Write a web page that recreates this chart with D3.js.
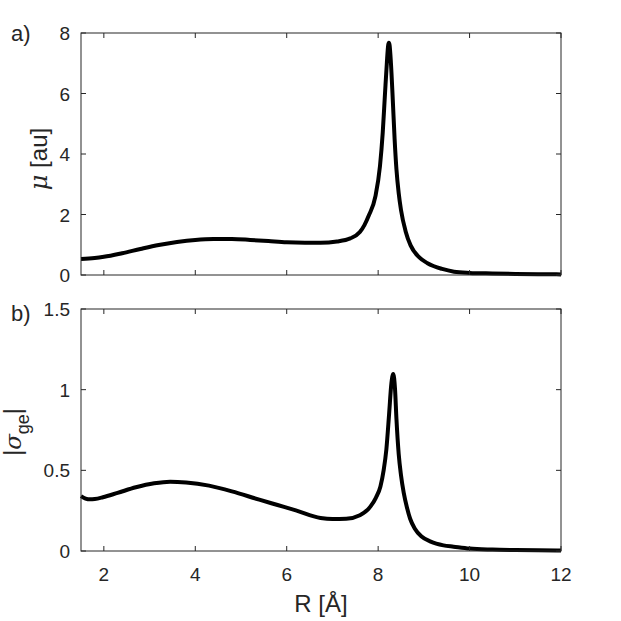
<!DOCTYPE html>
<html>
<head>
<meta charset="utf-8">
<script src="https://cdn.jsdelivr.net/npm/d3@7"></script>
<style>
  body { margin: 0; background: #fff; }
  svg text { font-family: "Liberation Sans", Arial, sans-serif; fill: #262626; }
</style>
</head>
<body>
<div id="chart"></div>
<script>
// R [Å] and dipole moment mu [au]
const muR = [1.5, 1.8, 2.0, 2.4, 2.8, 3.2, 3.6, 4.0, 4.4, 4.8, 5.2, 5.6, 6.0, 6.4, 6.74, 7.1, 7.39, 7.6, 7.7, 7.8, 7.94, 8.04, 8.1, 8.15, 8.19, 8.22, 8.235, 8.25, 8.28, 8.32, 8.36, 8.4, 8.45, 8.5, 8.6, 8.71, 8.9, 9.08, 9.4, 9.66, 10.0, 10.5, 11.0, 11.5, 12.0]
const muVal = [0.53, 0.56, 0.6, 0.72, 0.86, 0.99, 1.09, 1.16, 1.19, 1.19, 1.16, 1.12, 1.08, 1.07, 1.07, 1.11, 1.21, 1.42, 1.65, 1.98, 2.6, 3.6, 4.7, 6.0, 7.0, 7.6, 7.68, 7.6, 7.0, 5.8, 4.5, 3.5, 2.7, 2.15, 1.45, 0.98, 0.58, 0.39, 0.2, 0.11, 0.07, 0.05, 0.035, 0.025, 0.02]

// R [Å] and transition dipole |sigma_ge|
const sigR = [1.5, 1.6, 1.7, 1.8, 1.98, 2.3, 2.7, 3.1, 3.45, 3.8, 4.3, 4.8, 5.4, 5.8, 6.2, 6.74, 7.0, 7.3, 7.6, 7.83, 7.95, 8.05, 8.12, 8.18, 8.24, 8.29, 8.33, 8.37, 8.4, 8.45, 8.5, 8.56, 8.63, 8.7, 8.8, 8.95, 9.15, 9.43, 9.65, 10.0, 10.5, 11.0, 11.5, 12.0]
const sigVal = [0.34, 0.325, 0.32, 0.322, 0.333, 0.36, 0.395, 0.42, 0.43, 0.425, 0.405, 0.37, 0.318, 0.285, 0.252, 0.205, 0.198, 0.2, 0.222, 0.275, 0.33, 0.4, 0.5, 0.63, 0.85, 1.04, 1.097, 1.0, 0.82, 0.6, 0.47, 0.36, 0.27, 0.2, 0.14, 0.09, 0.058, 0.035, 0.027, 0.015, 0.009, 0.006, 0.004, 0.003]

const xTicks = [2, 4, 6, 8, 10, 12]
const muTicks = [0, 2, 4, 6, 8]
const sigTicks = [0, 0.5, 1, 1.5]

const W = 621, H = 621
const left = 81, right = 561
const panels = [
  {top: 33, bottom: 275, domain: [0, 8], ticks: muTicks, r: muR, v: muVal, tag: 'a)', tagY: 41, showX: false},
  {top: 309, bottom: 551, domain: [0, 1.5], ticks: sigTicks, r: sigR, v: sigVal, tag: 'b)', tagY: 321, showX: true}
]

const svg = d3.select('#chart').append('svg')
  .attr('width', W)
  .attr('height', H)

const x = d3.scaleLinear().domain([1.5, 12]).range([left, right])
const axisColor = '#262626'
const tickLen = 5

panels.forEach(p => {
  const y = d3.scaleLinear().domain(p.domain).range([p.bottom, p.top])
  const g = svg.append('g')

  // curve
  const line = d3.line()
    .x((d, i) => x(p.r[i]))
    .y(d => y(d))
    .curve(d3.curveMonotoneX)
  g.append('path')
    .datum(p.v)
    .attr('d', line)
    .attr('fill', 'none')
    .attr('stroke', '#000')
    .attr('stroke-width', 4)
    .attr('stroke-linejoin', 'round')

  // inward ticks on all four sides
  xTicks.forEach(t => {
    g.append('line').attr('x1', x(t)).attr('x2', x(t))
      .attr('y1', p.bottom).attr('y2', p.bottom - tickLen)
      .attr('stroke', axisColor)
    g.append('line').attr('x1', x(t)).attr('x2', x(t))
      .attr('y1', p.top).attr('y2', p.top + tickLen)
      .attr('stroke', axisColor)
    if (p.showX) {
      g.append('text').attr('x', x(t)).attr('y', 581)
        .attr('text-anchor', 'middle').attr('font-size', 19).text(t)
    }
  })
  p.ticks.forEach(t => {
    g.append('line').attr('x1', left).attr('x2', left + tickLen)
      .attr('y1', y(t)).attr('y2', y(t)).attr('stroke', axisColor)
    g.append('line').attr('x1', right).attr('x2', right - tickLen)
      .attr('y1', y(t)).attr('y2', y(t)).attr('stroke', axisColor)
    g.append('text').attr('x', left - 11).attr('y', y(t) + 7)
      .attr('text-anchor', 'end').attr('font-size', 19).text(t)
  })

  // box
  g.append('rect')
    .attr('x', left).attr('y', p.top)
    .attr('width', right - left).attr('height', p.bottom - p.top)
    .attr('fill', 'none').attr('stroke', axisColor).attr('stroke-width', 1)

  g.append('text').attr('x', 11).attr('y', p.tagY)
    .attr('font-size', 22).attr('fill', '#000').text(p.tag)
})

// y label a)
svg.append('text')
  .attr('transform', 'translate(47, 159) rotate(-90)')
  .attr('text-anchor', 'middle')
  .attr('font-size', 24)
  .html('<tspan font-style="italic" font-family="DejaVu Serif">μ</tspan> [au]')

// y label b)
const sl = svg.append('text')
  .attr('transform', 'translate(21, 432) rotate(-90)')
  .attr('text-anchor', 'middle')
  .attr('font-size', 23)
sl.append('tspan').text('|')
sl.append('tspan').attr('font-style', 'italic').attr('font-family', 'DejaVu Serif').text('σ')
sl.append('tspan').attr('font-size', 18).attr('dy', 8).text('ge')
sl.append('tspan').attr('dy', -8).text('|')

// x label
svg.append('text')
  .attr('x', (left + right) / 2).attr('y', 612)
  .attr('text-anchor', 'middle')
  .attr('font-size', 24)
  .text('R [Å]')
</script>
</body>
</html>
